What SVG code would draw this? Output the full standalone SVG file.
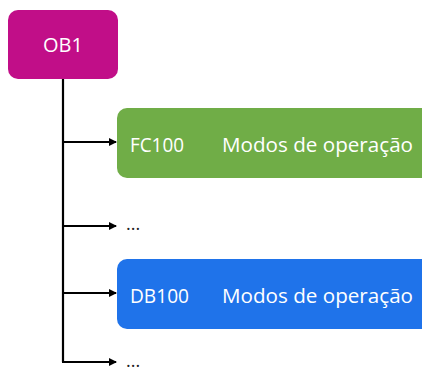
<svg xmlns="http://www.w3.org/2000/svg" width="422" height="370" viewBox="0 0 422 370">
<defs>
<style>
.lbl{font-family:"Open Sans","Liberation Sans",sans-serif;font-size:20px;fill:#ffffff}
.dots{font-family:"Open Sans","Liberation Sans",sans-serif;font-size:18px;fill:#222222}
.conn{stroke:#000000;stroke-width:2.2;fill:none}
</style>
<marker id="arr" markerWidth="8" markerHeight="8" refX="7" refY="4" orient="auto" markerUnits="userSpaceOnUse">
<path d="M0,0 L8,4 L0,8 Z" fill="#000000"/>
</marker>
</defs>
<rect width="422" height="370" fill="#ffffff"/>
<g id="connectors">
<path class="conn" d="M63,79 V362"/>
<path class="conn" d="M63,142 H116" marker-end="url(#arr)"/>
<path class="conn" d="M63,226 H116" marker-end="url(#arr)"/>
<path class="conn" d="M63,293 H116" marker-end="url(#arr)"/>
<path class="conn" d="M62,362 H116" marker-end="url(#arr)"/>
</g>
<g id="OB1">
<rect x="8" y="10" width="110" height="69" rx="10" fill="#C10E88"/>
<text class="lbl" x="63" y="51.5" text-anchor="middle">OB1</text>
</g>
<g id="FC100">
<rect x="117" y="108" width="320" height="70" rx="10" fill="#70AD47"/>
<text class="lbl" x="130" y="151.5" textLength="54" lengthAdjust="spacingAndGlyphs">FC100</text>
<text class="lbl" x="222" y="151.5" textLength="191" lengthAdjust="spacingAndGlyphs">Modos de operação</text>
</g>
<g id="dots1">
<text class="dots" x="126" y="230">...</text>
</g>
<g id="DB100">
<rect x="117" y="259" width="320" height="70" rx="10" fill="#1F73EA"/>
<text class="lbl" x="130" y="302.5" textLength="59" lengthAdjust="spacingAndGlyphs">DB100</text>
<text class="lbl" x="222" y="302.5" textLength="191" lengthAdjust="spacingAndGlyphs">Modos de operação</text>
</g>
<g id="dots2">
<text class="dots" x="126" y="367">...</text>
</g>
</svg>
